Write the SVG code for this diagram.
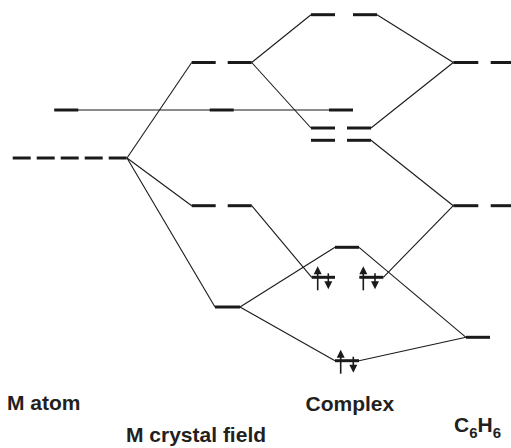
<svg xmlns="http://www.w3.org/2000/svg" width="511" height="448" viewBox="0 0 511 448">
<defs>
<style>
.lv{stroke:#1a1a1a;stroke-width:3;fill:none}
.cn{stroke:#1a1a1a;stroke-width:1.1;fill:none}
.e{stroke:#1a1a1a;stroke-width:1.6;fill:none}
.hd{fill:#1a1a1a}
.lb{font-family:"Liberation Sans",Arial,sans-serif;font-weight:bold;font-size:21px;fill:#231f20}
</style>
<g id="up"><line class="e" x1="0" y1="13" x2="0" y2="-5"/><polygon class="hd" points="-4,-3 4,-3 0,-11"/></g>
<g id="dn"><line class="e" x1="0" y1="-4" x2="0" y2="5"/><polygon class="hd" points="-4,4 4,4 0,12"/></g>
</defs>
<rect width="511" height="448" fill="#ffffff"/>
<g id="connectors">
<line class="cn" x1="54" y1="110" x2="353" y2="110"/>
<line class="cn" x1="127" y1="158" x2="191.7" y2="62.5"/>
<line class="cn" x1="127" y1="158" x2="191.7" y2="205.7"/>
<line class="cn" x1="127" y1="158" x2="215" y2="307"/>
<line class="cn" x1="251.7" y1="62.5" x2="311" y2="14.7"/>
<line class="cn" x1="251.7" y1="62.5" x2="311" y2="128"/>
<line class="cn" x1="377" y1="14.7" x2="453.3" y2="62.5"/>
<line class="cn" x1="371" y1="128" x2="453.3" y2="62.5"/>
<line class="cn" x1="371" y1="140.3" x2="453.3" y2="205.7"/>
<line class="cn" x1="251.7" y1="205.7" x2="311.7" y2="277.3"/>
<line class="cn" x1="383.3" y1="277.3" x2="453.3" y2="205.7"/>
<line class="cn" x1="240" y1="307" x2="335" y2="247.3"/>
<line class="cn" x1="240" y1="307" x2="335" y2="360.7"/>
<line class="cn" x1="359" y1="247.3" x2="466" y2="337.3"/>
<line class="cn" x1="359" y1="360.7" x2="466" y2="337.3"/>
</g>
<g id="m-atom-d">
<line class="lv" x1="12.7" y1="158" x2="30.7" y2="158"/>
<line class="lv" x1="36.7" y1="158" x2="54.7" y2="158"/>
<line class="lv" x1="60.7" y1="158" x2="78.7" y2="158"/>
<line class="lv" x1="84.7" y1="158" x2="102.7" y2="158"/>
<line class="lv" x1="108.7" y1="158" x2="126.7" y2="158"/>
</g>
<g id="m-atom-s">
<line class="lv" x1="54.3" y1="110" x2="78.3" y2="110"/>
</g>
<g id="cf-s">
<line class="lv" x1="209.7" y1="110" x2="233.7" y2="110"/>
</g>
<g id="cx-s">
<line class="lv" x1="329" y1="110" x2="353" y2="110"/>
</g>
<g id="cf-upper">
<line class="lv" x1="191.7" y1="62.5" x2="215.7" y2="62.5"/>
<line class="lv" x1="227.7" y1="62.5" x2="251.7" y2="62.5"/>
</g>
<g id="cf-middle">
<line class="lv" x1="191.7" y1="205.7" x2="215.7" y2="205.7"/>
<line class="lv" x1="227.7" y1="205.7" x2="251.7" y2="205.7"/>
</g>
<g id="cf-lower">
<line class="lv" x1="215" y1="307" x2="240" y2="307"/>
</g>
<g id="cx-top">
<line class="lv" x1="311" y1="14.7" x2="335" y2="14.7"/>
<line class="lv" x1="353" y1="14.7" x2="377" y2="14.7"/>
</g>
<g id="cx-128">
<line class="lv" x1="311" y1="128" x2="335" y2="128"/>
<line class="lv" x1="347" y1="128" x2="371" y2="128"/>
</g>
<g id="cx-140">
<line class="lv" x1="311" y1="140.3" x2="335" y2="140.3"/>
<line class="lv" x1="347" y1="140.3" x2="371" y2="140.3"/>
</g>
<g id="cx-247">
<line class="lv" x1="335" y1="247.3" x2="359" y2="247.3"/>
</g>
<g id="cx-277">
<line class="lv" x1="311.7" y1="277.3" x2="335" y2="277.3"/>
<line class="lv" x1="359.3" y1="277.3" x2="383.3" y2="277.3"/>
<use href="#up" x="317.7" y="277.3"/>
<use href="#dn" x="328.3" y="277.3"/>
<use href="#up" x="363.3" y="277.3"/>
<use href="#dn" x="375" y="277.3"/>
</g>
<g id="cx-360">
<line class="lv" x1="335" y1="360.7" x2="359" y2="360.7"/>
<use href="#up" x="340.7" y="360.7"/>
<use href="#dn" x="353.3" y="360.7"/>
</g>
<g id="bz-upper">
<line class="lv" x1="453.3" y1="62.5" x2="478.3" y2="62.5"/>
<line class="lv" x1="490.7" y1="62.5" x2="511" y2="62.5"/>
</g>
<g id="bz-middle">
<line class="lv" x1="453.3" y1="205.7" x2="478.3" y2="205.7"/>
<line class="lv" x1="490.7" y1="205.7" x2="511" y2="205.7"/>
</g>
<g id="bz-lower">
<line class="lv" x1="466" y1="337.3" x2="490" y2="337.3"/>
</g>
<g id="labels">
<text class="lb" x="7" y="410">M atom</text>
<text class="lb" x="126" y="441.5">M crystal field</text>
<text class="lb" x="305.5" y="410.5">Complex</text>
<text class="lb" x="454" y="431.5">C<tspan font-size="15" dy="6">6</tspan><tspan dy="-6">H</tspan><tspan font-size="15" dy="6">6</tspan></text>
</g>
</svg>
